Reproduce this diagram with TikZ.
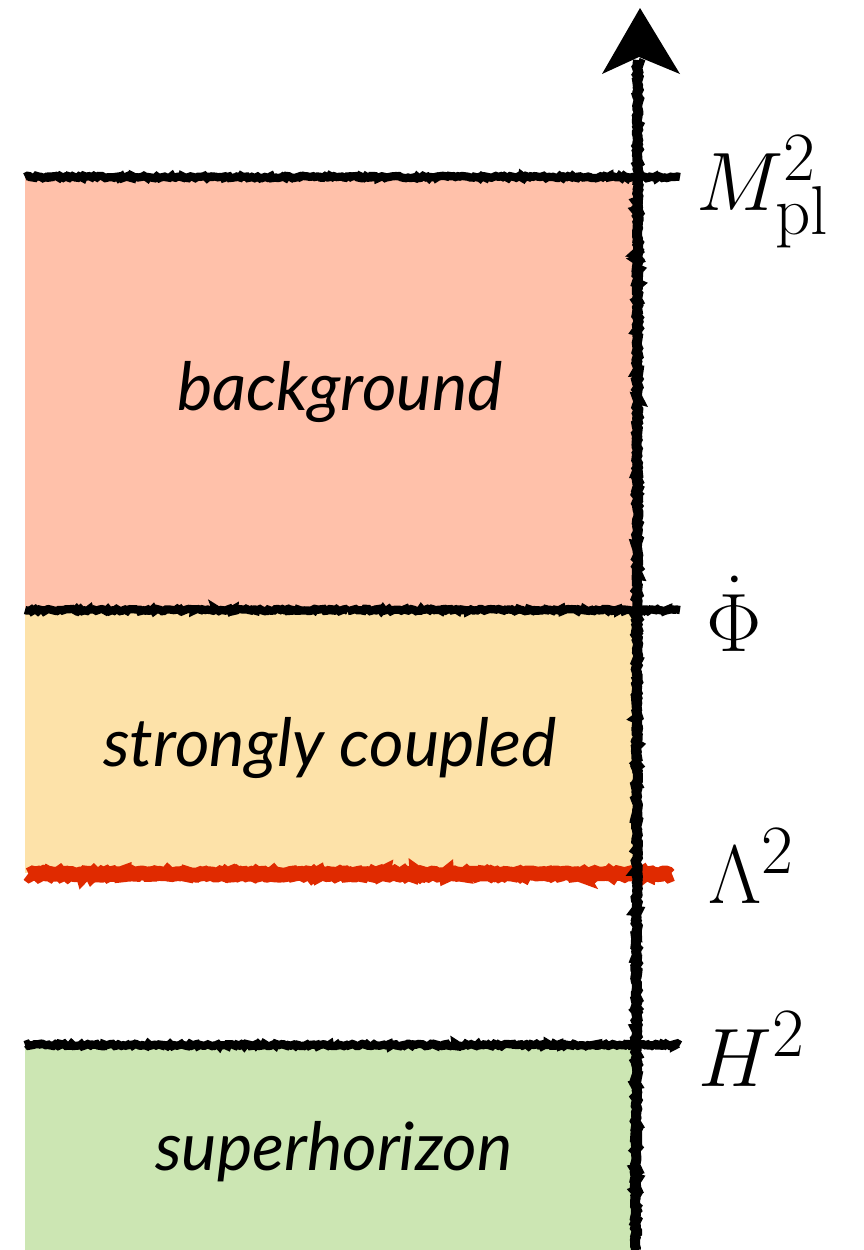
\documentclass[tikz,border=0pt]{standalone}
\usepackage{fontspec}
\newfontfamily\regionfont{Lato}
\usetikzlibrary{decorations.pathmorphing}
\definecolor{bgcol}{HTML}{FFC1AA}
\definecolor{sccol}{HTML}{FDE2A9}
\definecolor{shcol}{HTML}{CCE6B3}
\definecolor{redcol}{HTML}{E02A00}
\begin{document}
\begin{tikzpicture}[x=0.75pt,y=-0.75pt,
  rough/.style={decorate,decoration={random steps,segment length=1.5pt,amplitude=0.9pt}},
  tickline/.style={draw=black,line width=6.2pt,rough},
  axisline/.style={draw=black,line width=7.5pt,rough},
  redline/.style={draw=redcol,line width=11pt,rough},
  region/.style={font=\regionfont\itshape\fontsize{50}{56}\selectfont,inner sep=0pt},
  scalelabel/.style={font=\Huge,scale=2.5,inner sep=0pt,anchor=west}]
\useasboundingbox (0,0) rectangle (864,1250);
% fills
\fill[bgcol] (25,177) rectangle (636,610);
\fill[sccol] (25,610) rectangle (636,873);
\fill[shcol] (25,1045) rectangle (636,1250);
% region texts
\node[region] (bg) at (340,392) {background};
\node[region] (sc) at (330,748) {strongly coupled};
\node[region] (sh) at (334,1152) {superhorizon};
% tick lines
\draw[tickline] (25,177) -- (680,177);
\draw[tickline] (25,610) -- (680,610);
\draw[tickline] (25,1045) -- (680,1045);
\draw[redline] (28,874) -- (672,874);
% axis
\coordinate (abot) at (636,1250);
\coordinate (atop) at (638,60);
\draw[axisline] (abot) -- (atop);
\fill[black] (640,8) -- (680,74) -- (639,57) -- (602,74) -- cycle;
% labels
\node[scalelabel] (mpl) at (696,192) {$M^2_{\mathrm{pl}}$};
\node[scalelabel] (phi) at (706,614) {$\dot\Phi$};
\node[scalelabel] (lam) at (708,866) {$\Lambda^2$};
\node[scalelabel] (h) at (698,1049) {$H^2$};
\end{tikzpicture}
\end{document}
